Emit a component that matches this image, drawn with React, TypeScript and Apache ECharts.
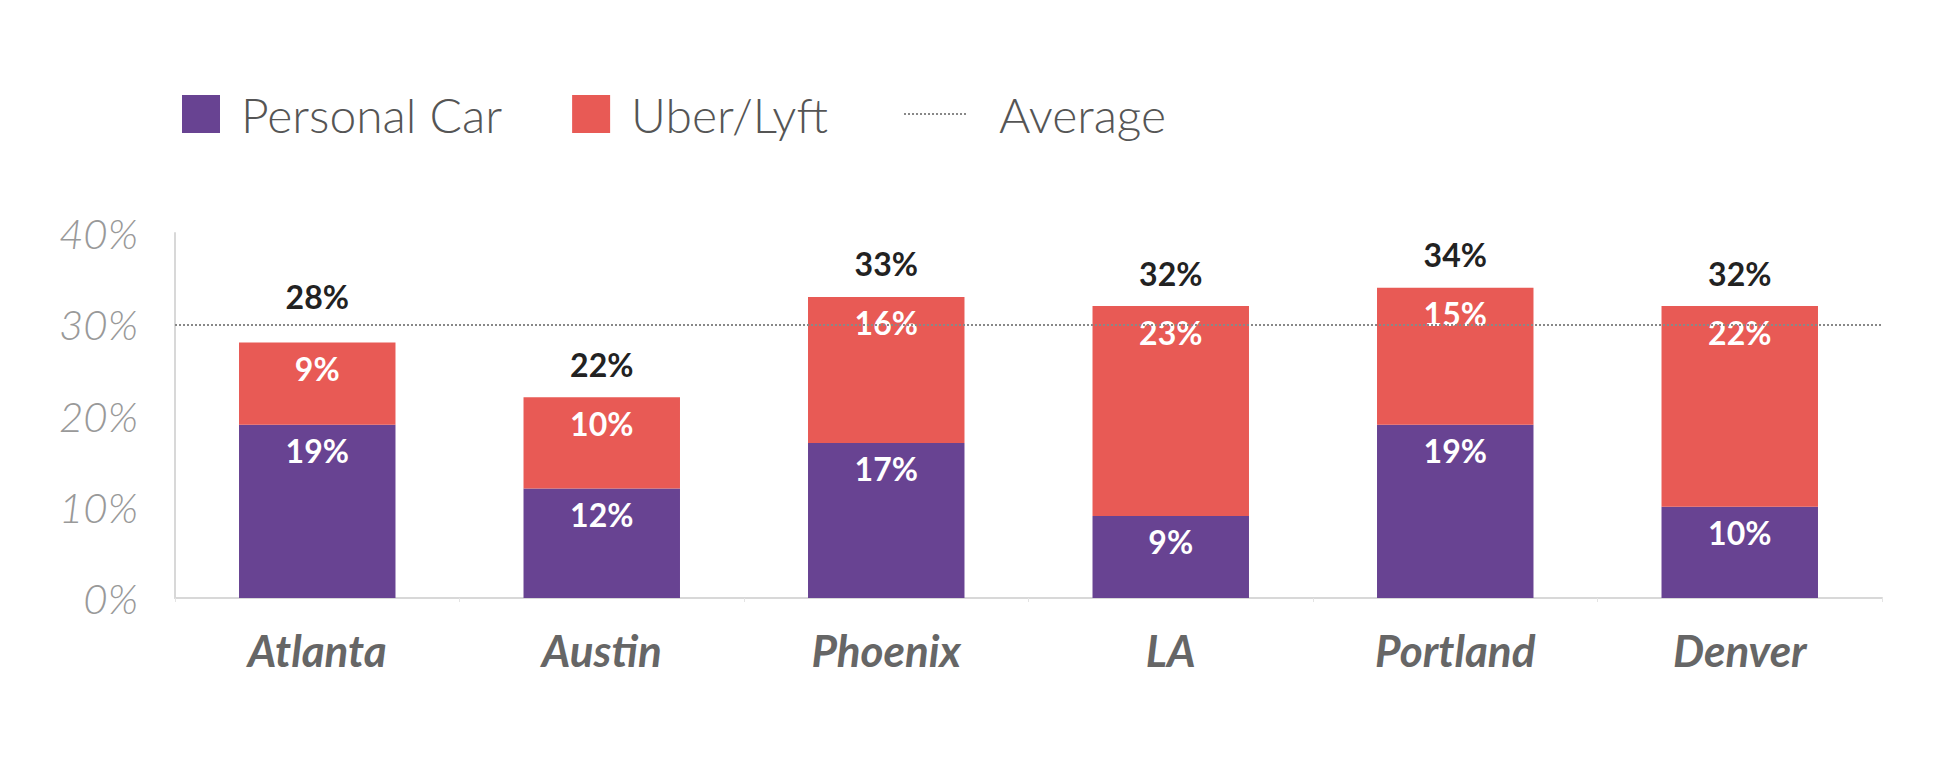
import React, { useEffect, useRef } from "react";
import * as echarts from "echarts";

const CITIES = ["Atlanta", "Austin", "Phoenix", "LA", "Portland", "Denver"];
const PERSONAL_CAR = [19, 12, 17, 9, 19, 10];
const UBER_LYFT = [9, 10, 16, 23, 15, 22];
const AVERAGE = 30;
const Y_TICKS = { min: 0, max: 40, interval: 10 };

const PURPLE = "#684392";
const RED = "#E85A55";
const FONT = "Lato";

export default function App() {
  const ref = useRef<HTMLDivElement>(null);
  useEffect(() => {
    document.body.style.margin = "0";
    if (!ref.current) return;
    const chart = echarts.init(ref.current, null, { renderer: "svg" });
    const totals = CITIES.map((_, i) => PERSONAL_CAR[i] + UBER_LYFT[i]);
    const innerLabel = {
      show: true,
      position: "insideTop",
      distance: 10,
      color: "#fff",
      fontFamily: FONT,
      fontWeight: "bold",
      fontSize: 32,
      formatter: "{c}%",
    };
    const legendText = {
      fontFamily: FONT,
      fontSize: 48,
      fontWeight: 300,
      color: "#555",
    };
    chart.setOption({
      animation: false,
      backgroundColor: "#fff",
      textStyle: { fontFamily: FONT },
      legend: [
        {
          left: 182,
          top: 90,
          padding: 0,
          icon: "rect",
          itemWidth: 38,
          itemHeight: 38,
          itemGap: 70,
          data: ["Personal Car", "Uber/Lyft"],
          textStyle: { ...legendText, padding: [0, 0, 0, 16] },
        },
        {
          left: 903,
          top: 90,
          padding: 0,
          itemWidth: 62,
          itemHeight: 38,
          data: ["Average"],
          itemStyle: { color: "rgba(0,0,0,0)", borderWidth: 0, opacity: 0 },
          lineStyle: { type: "dotted", color: "#888", width: 2 },
          textStyle: { ...legendText, padding: [0, 0, 0, 28] },
        },
      ],
      grid: { left: 175, right: 70, top: 233, bottom: 176, containLabel: false },
      xAxis: {
        type: "category",
        data: CITIES,
        axisLine: { lineStyle: { color: "#d8d8d8", width: 2 } },
        axisTick: { show: true, length: 4, lineStyle: { color: "#e4e4e4" } },
        axisLabel: {
          margin: 30,
          fontFamily: FONT,
          fontSize: 44,
          fontStyle: "italic",
          fontWeight: "bold",
          color: "#666",
        },
      },
      yAxis: {
        type: "value",
        min: Y_TICKS.min,
        max: Y_TICKS.max,
        interval: Y_TICKS.interval,
        axisLine: { show: true, lineStyle: { color: "#d8d8d8", width: 2 } },
        axisTick: { show: false },
        splitLine: { show: false },
        axisLabel: {
          margin: 37,
          formatter: "{value}%",
          fontFamily: FONT,
          fontSize: 42,
          fontStyle: "italic",
          fontWeight: 300,
          color: "#999",
        },
      },
      series: [
        {
          name: "Personal Car",
          type: "bar",
          stack: "total",
          barWidth: "55%",
          data: PERSONAL_CAR,
          itemStyle: { color: PURPLE },
          label: innerLabel,
        },
        {
          name: "Uber/Lyft",
          type: "bar",
          stack: "total",
          barWidth: "55%",
          data: UBER_LYFT,
          itemStyle: { color: RED },
          label: innerLabel,
        },
        {
          name: "Total",
          type: "bar",
          barWidth: "55%",
          barGap: "-100%",
          data: totals.map((v, i) =>
            i === 0 ? { value: v, label: { distance: 30 } } : v
          ),
          itemStyle: { color: "rgba(0,0,0,0)" },
          silent: true,
          z: 1,
          label: {
            show: true,
            position: "top",
            distance: 17,
            color: "#222",
            fontFamily: FONT,
            fontWeight: "bold",
            fontSize: 32,
            formatter: "{c}%",
          },
        },
        {
          name: "Average",
          type: "line",
          data: CITIES.map(() => null),
          symbol: "none",
          lineStyle: { type: "dotted", color: "#888", width: 2 },
          itemStyle: { color: "#888" },
          markLine: {
            silent: true,
            symbol: ["none", "none"],
            label: { show: false },
            lineStyle: { type: "dotted", color: "#888", width: 2 },
            data: [{ yAxis: AVERAGE }],
          },
        },
      ],
    });
    return () => chart.dispose();
  }, []);
  return <div ref={ref} style={{ width: 1952, height: 774 }} />;
}
